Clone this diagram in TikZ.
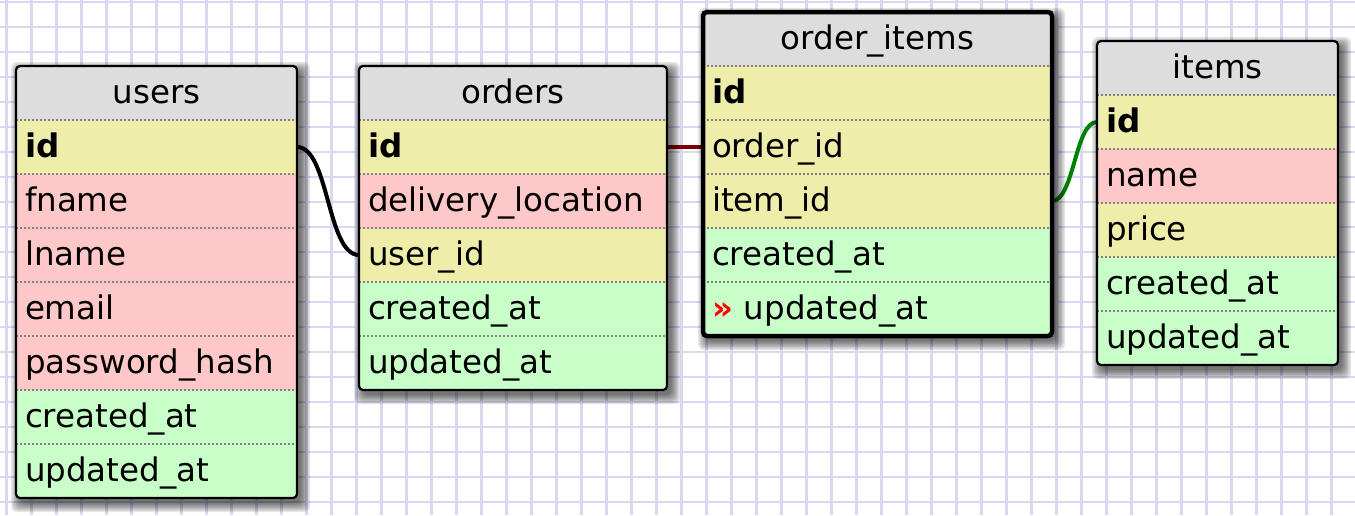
\documentclass[tikz,border=0pt]{standalone}
\usepackage{fontspec}
\setmainfont{DejaVu Sans}
\usetikzlibrary{positioning}

\definecolor{headGray}{HTML}{DDDDDD}
\definecolor{keyYellow}{HTML}{EEEEAA}
\definecolor{strPink}{HTML}{FFC8C8}
\definecolor{dateGreen}{HTML}{C8FFC8}
\definecolor{sepGray}{HTML}{808080}
\definecolor{gridBlue}{HTML}{D8D8F2}
\definecolor{fkRed}{HTML}{800000}
\definecolor{fkGreen}{HTML}{008000}

\pgfdeclarelayer{grid}
\pgfdeclarelayer{wires}
\pgfdeclarelayer{shade}
\pgfsetlayers{grid,wires,shade,main}

\begin{document}
\fontsize{32.5}{39}\selectfont
\begin{tikzpicture}[x=1pt, y=-1pt, node distance=0pt,
            every node/.style={inner xsep=9pt, inner ysep=0pt, outer sep=0pt,
                minimum height=54pt, text height=26pt, text depth=5.6pt, align=left},
            headRow/.style={fill=headGray, align=center},
            keyRow/.style={fill=keyYellow, font=\bfseries},
            numRow/.style={fill=keyYellow},
            strRow/.style={fill=strPink},
            dateRow/.style={fill=dateGreen},
            rowLine/.style={draw=sepGray, line width=1.3pt, dash pattern=on 2pt off 2pt},
            frame/.style={draw=black, line width=2.2pt, rounded corners=4pt},
            shadeStep/.style={fill=black, fill opacity=0.1, rounded corners=6pt},
            wire/.style={draw=black, line width=4pt}]

        % paper
        \useasboundingbox (0,0) rectangle (1355,515);
        \begin{pgfonlayer}{grid}
            \fill[white] (0,0) rectangle (1355,515);
            \foreach \gx in {6.5,31.5,...,1355}
                \draw[gridBlue, line width=2.2pt] (\gx,0) -- (\gx,515);
            \foreach \gy in {1.7,26.7,...,515}
                \draw[gridBlue, line width=2.2pt] (0,\gy) -- (1355,\gy);
        \end{pgfonlayer}

        % users
        \begin{scope}[every node/.append style={text width=263pt}]
            \node[headRow, anchor=north west] (usersHead) at (16,66) {users};
            \node[keyRow, below=of usersHead] (usersId) {id};
            \node[strRow, below=of usersId] (usersFname) {fname};
            \node[strRow, below=of usersFname] (usersLname) {lname};
            \node[strRow, below=of usersLname] (usersEmail) {email};
            \node[strRow, below=of usersEmail] (usersPassword) {password\_hash};
            \node[dateRow, below=of usersPassword] (usersCreated) {created\_at};
            \node[dateRow, below=of usersCreated] (usersUpdated) {updated\_at};
        \end{scope}

        % orders
        \begin{scope}[every node/.append style={text width=290pt}]
            \node[headRow, anchor=north west] (ordersHead) at (359,66) {orders};
            \node[keyRow, below=of ordersHead] (ordersId) {id};
            \node[strRow, below=of ordersId] (ordersLocation) {delivery\_location};
            \node[numRow, below=of ordersLocation] (ordersUserId) {user\_id};
            \node[dateRow, below=of ordersUserId] (ordersCreated) {created\_at};
            \node[dateRow, below=of ordersCreated] (ordersUpdated) {updated\_at};
        \end{scope}

        % order_items
        \begin{scope}[every node/.append style={text width=331pt}]
            \node[headRow, anchor=north west] (orderItemsHead) at (703,12) {order\_items};
            \node[keyRow, below=of orderItemsHead] (orderItemsId) {id};
            \node[numRow, below=of orderItemsId] (orderItemsOrderId) {order\_id};
            \node[numRow, below=of orderItemsOrderId] (orderItemsItemId) {item\_id};
            \node[dateRow, below=of orderItemsItemId] (orderItemsCreated) {created\_at};
            \node[dateRow, below=of orderItemsCreated] (orderItemsUpdated)
                {{\color{red}\bfseries »}\ updated\_at};
        \end{scope}

        % items
        \begin{scope}[every node/.append style={text width=223pt}]
            \node[headRow, anchor=north west] (itemsHead) at (1097,41) {items};
            \node[keyRow, below=of itemsHead] (itemsId) {id};
            \node[strRow, below=of itemsId] (itemsName) {name};
            \node[numRow, below=of itemsName] (itemsPrice) {price};
            \node[dateRow, below=of itemsPrice] (itemsCreated) {created\_at};
            \node[dateRow, below=of itemsCreated] (itemsUpdated) {updated\_at};
        \end{scope}

        % row separators
        \foreach \r in {usersId,usersFname,usersLname,usersEmail,usersPassword,usersCreated,usersUpdated,
                ordersId,ordersLocation,ordersUserId,ordersCreated,ordersUpdated,
                orderItemsId,orderItemsOrderId,orderItemsItemId,orderItemsCreated,orderItemsUpdated,
                itemsId,itemsName,itemsPrice,itemsCreated,itemsUpdated}
            \draw[rowLine] (\r.north west) -- (\r.north east);

        % outlines
        \draw[frame] (usersHead.north west) rectangle (usersUpdated.south east);
        \draw[frame] (ordersHead.north west) rectangle (ordersUpdated.south east);
        \draw[frame, line width=4.5pt] (orderItemsHead.north west) rectangle (orderItemsUpdated.south east);
        \draw[frame] (itemsHead.north west) rectangle (itemsUpdated.south east);

        % shadows
        \begin{pgfonlayer}{shade}
            \foreach \a/\b in {usersHead/usersUpdated, ordersHead/ordersUpdated,
                    orderItemsHead/orderItemsUpdated, itemsHead/itemsUpdated}
                \foreach \s in {0,1.5,...,9}
                    \fill[shadeStep] ([xshift=4pt-\s pt, yshift=-5pt+\s pt]\a.north west)
                        rectangle ([xshift=4pt+\s pt, yshift=-5pt-\s pt]\b.south east);
        \end{pgfonlayer}

        % relations
        \begin{pgfonlayer}{wires}
            \draw[wire] (usersId.east) .. controls +(32,0) and +(-32,0) .. (ordersUserId.west);
            \draw[wire, draw=fkRed, line width=4.6pt] (ordersId.east) -- (orderItemsOrderId.west);
            \draw[wire, draw=fkGreen] (orderItemsItemId.east) .. controls +(22,0) and +(-22,0) .. (itemsId.west);
        \end{pgfonlayer}
\end{tikzpicture}
\end{document}
